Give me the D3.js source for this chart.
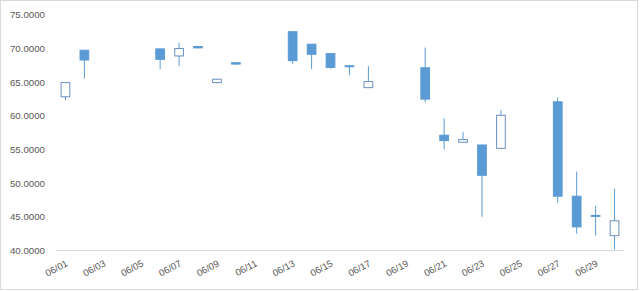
<!DOCTYPE html>
<html>
<head>
<meta charset="utf-8">
<script src="https://cdn.jsdelivr.net/npm/d3@7"></script>
<style>
  body { margin: 0; background: #fff; }
  svg { display: block; font-family: "Liberation Sans", Arial, sans-serif; }
</style>
</head>
<body>
<div id="chart"></div>
<script>
// one entry per calendar day, null where there was no trading
var dates = ["06/01","06/02","06/03","06/04","06/05","06/06","06/07","06/08","06/09","06/10",
             "06/11","06/12","06/13","06/14","06/15","06/16","06/17","06/18","06/19","06/20",
             "06/21","06/22","06/23","06/24","06/25","06/26","06/27","06/28","06/29","06/30"];
var open  = [62.8, 69.7, null, null, null, 69.9, 68.85, 70.25, 64.9, 67.85,
             null, null, 72.45, 70.6, 69.2, 67.4, 64.15, null, null, 67.1,
             57.1, 56.05, 55.65, 55.15, null, null, 62.05, 48.05, 45.2, 42.2];
var high  = [64.9, 69.7, null, null, null, 69.9, 70.8, 70.35, 65.4, 67.9,
             null, null, 72.45, 70.6, 69.2, 67.45, 67.35, null, null, 70.1,
             59.6, 57.55, 55.65, 60.8, null, null, 62.7, 51.7, 46.6, 49.15];
var low   = [62.3, 65.5, null, null, null, 66.9, 67.35, 70.0, 64.8, 67.5,
             null, null, 67.7, 66.9, 66.95, 66.0, 64.1, null, null, 62.0,
             55.0, 56.0, 45.0, 55.1, null, null, 47.1, 42.5, 42.2, 40.15];
var close = [64.9, 68.25, null, null, null, 68.35, 69.95, 70.05, 65.4, 67.65,
             null, null, 68.15, 69.1, 67.15, 67.25, 65.05, null, null, 62.45,
             56.3, 56.45, 51.15, 60.05, null, null, 48.05, 43.5, 45.05, 44.4];
var yTicks = [40, 45, 50, 55, 60, 65, 70, 75];
var xLabels = dates.filter(function(d, i) { return i % 2 === 0; });

var width = 640;
var height = 291;
var margin = {top: 14.5, right: 16, bottom: 40.5, left: 56};

var svg = d3.select("#chart")
  .append("svg")
  .attr("width", width)
  .attr("height", height);

// chart border
svg.append("rect")
  .attr("x", 0.5).attr("y", 0.5)
  .attr("width", 637).attr("height", 289)
  .attr("fill", "#fff")
  .attr("stroke", "#d9d9d9");

var x = d3.scaleBand()
  .domain(dates)
  .range([margin.left, width - margin.right])
  .padding(0);

var y = d3.scaleLinear()
  .domain([40, 75])
  .range([height - margin.bottom, margin.top]);

// y axis labels, no line
var yAxis = svg.append("g")
  .attr("transform", "translate(" + (margin.left - 11) + ",0)")
  .call(d3.axisLeft(y).tickValues(yTicks).tickFormat(d3.format(".4f")).tickSize(0).tickPadding(0));
yAxis.select(".domain").remove();
yAxis.selectAll("text")
  .attr("fill", "#595959")
  .style("font-size", "9.7px");

// x axis line + rotated labels
svg.append("line")
  .attr("x1", margin.left).attr("x2", width - margin.right)
  .attr("y1", y(40)).attr("y2", y(40))
  .attr("stroke", "#d9d9d9");

svg.append("g")
  .selectAll("text")
  .data(xLabels)
  .enter()
  .append("text")
  .attr("text-anchor", "end")
  .attr("transform", function(d) {
    return "translate(" + (x(d) + x.bandwidth() / 2 + 3) + "," + (y(40) + 15) + ") rotate(-28)";
  })
  .attr("fill", "#595959")
  .style("font-size", "9.5px")
  .text(function(d) { return d; });

var candles = dates.map(function(d, i) {
  return {date: d, o: open[i], h: high[i], l: low[i], c: close[i]};
}).filter(function(d) { return d.o != null; });

var bodyW = x.bandwidth() * 0.46;

var g = svg.append("g")
  .selectAll("g")
  .data(candles)
  .enter()
  .append("g")
  .attr("transform", function(d) { return "translate(" + (x(d.date) + x.bandwidth() / 2) + ",0)"; });

g.append("line")
  .attr("x1", 0).attr("x2", 0)
  .attr("y1", function(d) { return y(d.h); })
  .attr("y2", function(d) { return y(d.l); })
  .attr("stroke", "#5b9bd5")
  .attr("stroke-width", 1);

g.append("rect")
  .attr("x", -bodyW / 2)
  .attr("width", bodyW)
  .attr("y", function(d) { return y(Math.max(d.o, d.c)); })
  .attr("height", function(d) { return Math.max(1, Math.abs(y(d.o) - y(d.c))); })
  .attr("fill", function(d) { return d.c >= d.o ? "#fff" : "#5b9bd5"; })
  .attr("stroke", function(d) { return d.c >= d.o ? "#6d8fc2" : "#5b9bd5"; })
  .attr("stroke-width", 1);
</script>
</body>
</html>
